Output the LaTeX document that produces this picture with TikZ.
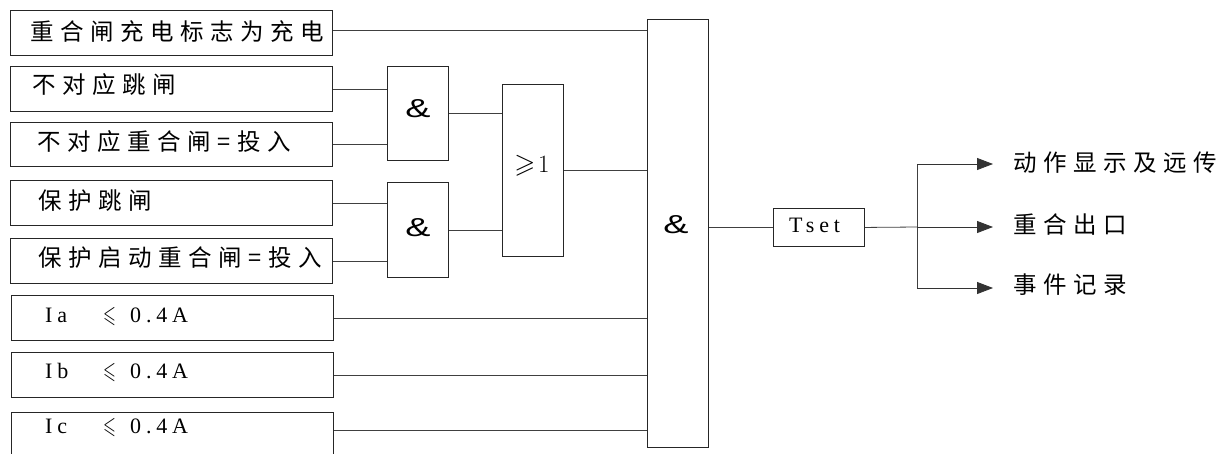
\documentclass[tikz,border=0pt]{standalone}
\usepackage{amssymb}
\usepackage{fontspec}
\usetikzlibrary{arrows.meta}
\newfontfamily\cjk{Noto Sans CJK SC}[LetterSpace=28]
\newfontfamily\lat{Liberation Serif}[LetterSpace=22]
\newfontfamily\ampf{Liberation Sans}
\newcommand{\myleq}{\scalebox{0.75}[1.08]{$\leqslant$}}
\begin{document}
\begin{tikzpicture}[x=1pt,y=-1pt,
  wire/.style={draw=black!75, line width=0.8pt},
  arr/.style={draw=black!80, line width=0.8pt, -{Triangle[length=16pt,width=12pt]}},
  inbox/.style={draw=black!85, line width=0.9pt, rectangle, anchor=north west, inner sep=0pt, minimum width=322pt, minimum height=45pt},
  gate/.style={draw=black!85, line width=0.9pt, rectangle, anchor=north west, inner sep=0pt, minimum width=61pt},
  txt/.style={anchor=west, inner sep=0pt, font=\fontsize{23.5pt}{26pt}\cjk},
  ltxt/.style={anchor=base west, inner sep=0pt, font=\fontsize{22pt}{25pt}\lat},
  ampt/.style={inner sep=0pt, font=\fontsize{26pt}{29pt}\ampf},
]
\useasboundingbox (0,0) rectangle (1219,453);
\fill[white] (0,0) rectangle (1219,453);
\clip (0,0) rectangle (1219,453);

% input boxes
\node[inbox] (b1) at (10,10) {};
\node[inbox] (b2) at (10,66) {};
\node[inbox,minimum height=44pt] (b3) at (10,122) {};
\node[inbox] (b4) at (10,180) {};
\node[inbox] (b5) at (10,238) {};
\node[inbox] (b6) at (11,295) {};
\node[inbox] (b7) at (11,352) {};
\node[inbox,minimum height=60pt] (b8) at (11,412) {};

\node[txt] (t1) at (30,32) {重合闸充电标志为充电};
\node[txt] (t2) at (32,85) {不对应跳闸};
\node[txt] (t3) at (37,142) {不对应重合闸=投入};
\node[txt] (t4) at (38,201) {保护跳闸};
\node[txt] (t5) at (38,258) {保护启动重合闸=投入};
\node[ltxt] (t6) at (45,322) {\makebox[58pt][l]{Ia}\makebox[27pt][l]{\myleq}0.4A};
\node[ltxt] (t7) at (45,378) {\makebox[58pt][l]{Ib}\makebox[27pt][l]{\myleq}0.4A};
\node[ltxt] (t8) at (45,433) {\makebox[58pt][l]{Ic}\makebox[27pt][l]{\myleq}0.4A};

% gates
\node[gate,minimum height=94pt] (g1) at (387,66) {};
\node[gate,minimum height=95pt] (g2) at (387,182) {};
\node[gate,minimum height=172pt] (g3) at (502,84) {};
\node[gate,minimum height=428pt] (A3) at (647,19) {};
\node[draw=black!85, line width=0.9pt, rectangle, anchor=north west, inner sep=0pt, minimum width=91pt, minimum height=38pt] (T) at (773,208) {};

\node[ampt] (a1) at (418,109) {\scalebox{1.45}[1]{\&}};
\node[ampt] (a2) at (418,228) {\scalebox{1.45}[1]{\&}};
\node[ampt] (a3) at (676,225) {\scalebox{1.45}[1]{\&}};
\node[inner sep=0pt, font=\fontsize{27pt}{30pt}\selectfont] (or) at (532,166) {$\geqslant\!1$};
\node[ltxt] (tt) at (789,232) {Tset};

% wires
\coordinate (p1) at ([yshift=3pt]b1.east);
\draw[wire] (p1) -- (p1 -| A3.west);
\draw[wire] (b2.east) -- (b2.east -| g1.west);
\draw[wire] (b3.east) -- (b3.east -| g1.west);
\draw[wire] (b4.east) -- (b4.east -| g2.west);
\draw[wire] (b5.east) -- (b5.east -| g2.west);
\draw[wire] (g1.east) -- (g1.east -| g3.west);
\draw[wire] (g2.east) -- (g2.east -| g3.west);
\draw[wire] (g3.east) -- (g3.east -| A3.west);
\draw[wire] (b6.east) -- (b6.east -| A3.west);
\draw[wire] (b7.east) -- (b7.east -| A3.west);
\coordinate (p8) at ([yshift=-18pt]b8.north east);
\draw[wire] (p8) -- (p8 -| A3.west);
\draw[wire] (A3.east |- T.west) -- (T.west);

% outputs
\coordinate (br) at (917,227);
\coordinate (bt) at (917,164);
\coordinate (bb) at (917,288);
\coordinate (o1) at (993,164);
\coordinate (o2) at (993,227);
\coordinate (o3) at (993,288);
\draw[wire] (T.east) -- (br);
\draw[wire] (bt) -- (bb);
\draw[arr] (bt) -- (o1);
\draw[arr] (br) -- (o2);
\draw[arr] (bb) -- (o3);
\node[txt] (r1) at (1013,163) {动作显示及远传};
\node[txt] (r2) at (1013,225) {重合出口};
\node[txt] (r3) at (1013,285) {事件记录};
\end{tikzpicture}
\end{document}
